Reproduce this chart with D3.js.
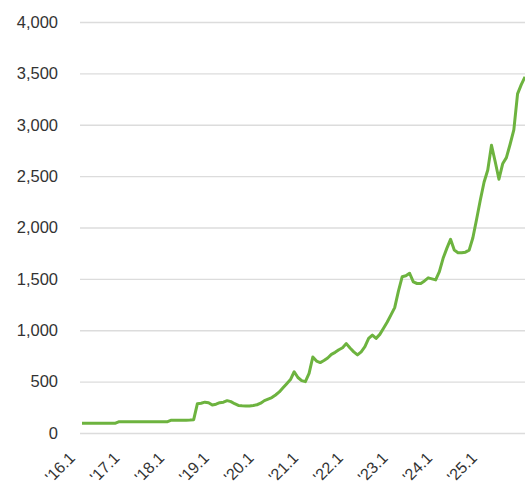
<!DOCTYPE html>
<html>
<head>
<meta charset="utf-8">
<script src="https://cdn.jsdelivr.net/npm/d3@7/dist/d3.min.js"></script>
<style>
  html, body { margin: 0; padding: 0; background: #ffffff; }
  svg { display: block; }
  text { font-family: "Liberation Sans", Arial, sans-serif; fill: #333333; }
</style>
</head>
<body>
<svg id="chart" width="525" height="490"></svg>
<script>
// Monthly values, Jan 2016 .. Dec 2025
const startYear = 2016;
const values2016 = [95, 95, 95, 95, 95, 95, 95, 95, 95, 95, 110, 110];
const values2017 = [110, 110, 110, 110, 110, 110, 110, 110, 110, 110, 110, 110];
const values2018 = [125, 125, 125, 125, 125, 126, 130, 285, 290, 300, 295, 272];
const values2019 = [280, 295, 300, 315, 305, 285, 268, 265, 263, 263, 268, 275];
const values2020 = [290, 315, 330, 345, 370, 400, 440, 480, 520, 596, 540, 510];
const values2021 = [500, 580, 740, 700, 685, 705, 730, 765, 785, 810, 830, 870];
const values2022 = [827, 790, 760, 790, 840, 920, 953, 921, 960, 1020, 1080, 1150];
const values2023 = [1220, 1380, 1520, 1530, 1555, 1470, 1455, 1456, 1480, 1510, 1500, 1490];
const values2024 = [1570, 1700, 1797, 1885, 1780, 1755, 1754, 1760, 1780, 1900, 2080, 2267];
const values2025 = [2440, 2560, 2800, 2640, 2470, 2620, 2680, 2810, 2950, 3300, 3390, 3466];

const yTicks = [0, 500, 1000, 1500, 2000, 2500, 3000, 3500, 4000];
const xTickLabels = ["'16.1", "'17.1", "'18.1", "'19.1", "'20.1", "'21.1", "'22.1", "'23.1", "'24.1", "'25.1"];

const series = [].concat(values2016, values2017, values2018, values2019, values2020,
                         values2021, values2022, values2023, values2024, values2025);
const data = series.map((v, i) => ({ i: i, v: v }));

const svg = d3.select("#chart");

const x = d3.scaleLinear().domain([0, series.length - 1]).range([82, 525]);
const y = d3.scaleLinear().domain([0, 4000]).range([433, 22]);

// gridlines
svg.append("g")
  .selectAll("line")
  .data(yTicks)
  .join("line")
  .attr("x1", 80).attr("x2", 525)
  .attr("y1", d => y(d) + 0.5).attr("y2", d => y(d) + 0.5)
  .attr("stroke", "#dcdcdc")
  .attr("stroke-width", 1.3);

// y axis labels
const yAxis = d3.axisLeft(y).tickValues(yTicks).tickSize(0).tickPadding(0)
  .tickFormat(d3.format(","));
const gy = svg.append("g").attr("transform", "translate(58,0)").call(yAxis);
gy.select(".domain").remove();
gy.selectAll("text")
  .attr("font-size", "16.5px")
  .attr("fill", "#333")
  .attr("font-family", "Liberation Sans, Arial, sans-serif");

// x axis labels (January of each year), rotated -45°
const xTicks = xTickLabels.map((label, k) => ({ label: label, idx: k * 12 }));
const xg = svg.append("g")
  .selectAll("g")
  .data(xTicks)
  .join("g")
  .attr("transform", d => "translate(" + (x(d.idx) - 6) + ",459) rotate(-45)");
xg.append("text")
  .attr("x", 0).attr("y", 0)
  .style("text-anchor", "end")
  .style("font-size", "16px")
  .style("fill", "#333")
  .text(d => d.label);

// line
const line = d3.line().x(d => x(d.i)).y(d => y(d.v));
svg.append("path")
  .datum(data)
  .attr("d", line)
  .attr("fill", "none")
  .attr("stroke", "#6db33f")
  .attr("stroke-width", 3)
  .attr("stroke-linejoin", "round");
</script>
</body>
</html>
